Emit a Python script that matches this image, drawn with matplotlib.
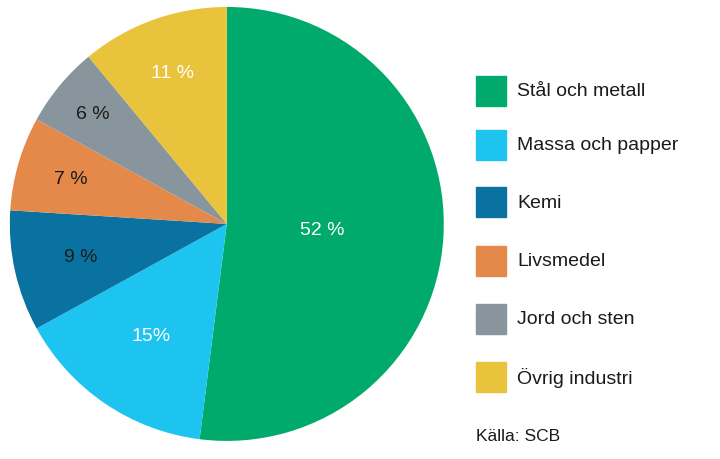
import matplotlib.pyplot as plt
import numpy as np

categories = ["Stål och metall", "Massa och papper", "Kemi", "Livsmedel", "Jord och sten", "Övrig industri"]
values = [52, 15, 9, 7, 6, 11]
labels = ["52 %", "15%", "9 %", "7 %", "6 %", "11 %"]
colors = ["#00AA6C", "#1CC4EF", "#0A72A0", "#E5894B", "#89959C", "#E8C33B"]
label_colors = ["white", "white", "#1a1a1a", "#1a1a1a", "#1a1a1a", "white"]
label_dist = [0.44, 0.62, 0.69, 0.75, 0.80, 0.74]

fig = plt.figure(figsize=(7.2, 4.6), dpi=100)
ax = fig.add_axes([0.315 - 0.3014, 0.511 - 0.4717, 0.6028, 0.9434])
wedges, _ = ax.pie(values, colors=colors, startangle=90, counterclock=False,
                   wedgeprops=dict(linewidth=0))
for w, lab, c, d in zip(wedges, labels, label_colors, label_dist):
    ang = np.deg2rad((w.theta1 + w.theta2) / 2)
    ax.text(d * np.cos(ang), d * np.sin(ang), lab, ha="center", va="center",
            fontsize=14, color=c, family="Liberation Sans")
ax.set_xlim(-1, 1)
ax.set_ylim(-1, 1)
ax.set_aspect("equal")

rows = [92, 146, 203, 262, 320, 378]
for cat, col, y in zip(categories, colors, rows):
    fig.patches.append(plt.Rectangle((476 / 720, 1 - (y + 15) / 460), 30 / 720, 30 / 460,
                                     color=col, transform=fig.transFigure))
    fig.text(517 / 720, 1 - y / 460, cat, fontsize=14, va="center", color="#1a1a1a",
             family="Liberation Sans")
fig.text(476 / 720, 1 - 437 / 460, "Källa: SCB", fontsize=12.5, va="center", color="#1a1a1a",
         family="Liberation Sans")
fig.savefig("out.png", dpi=100)
